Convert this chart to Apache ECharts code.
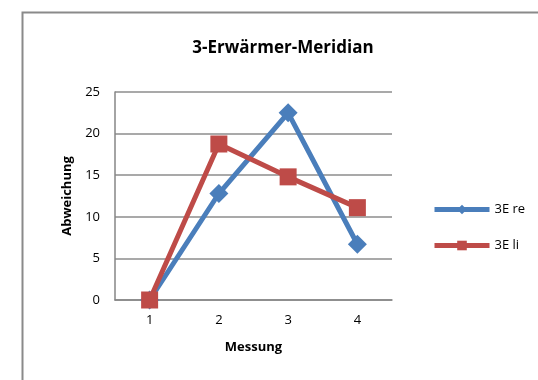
<!DOCTYPE html>
<html>
<head>
<meta charset="utf-8">
<script src="https://cdn.jsdelivr.net/npm/echarts@6/dist/echarts.min.js"></script>
<style>
  html, body { margin: 0; padding: 0; background: #fff; }
  #chart { width: 538px; height: 380px; }
</style>
</head>
<body>
<div id="chart"></div>
<script>
// Measurement rounds and deviation per meridian side
const categories = ['1', '2', '3', '4'];
const rechts = [0, 12.8, 22.5, 6.7];
const links = [0, 18.75, 14.8, 11.1];
const seriesNames = ['3E re', '3E li'];
const yTicks = { min: 0, max: 25, interval: 5 };

const FONT = '"Open Sans", "Liberation Sans", sans-serif';
const chart = echarts.init(document.getElementById('chart'), null, { renderer: 'canvas' });

chart.setOption({
  backgroundColor: '#ffffff',
  animation: false,
  title: {
    text: '3-Erwärmer-Meridian',
    left: 278,
    top: 35,
    textAlign: 'center',
    textStyle: { fontFamily: FONT, fontSize: 17, fontWeight: 'bold', color: '#000' }
  },
  legend: {
    orient: 'vertical',
    left: 427,
    top: 198,
    itemWidth: 55,
    itemHeight: 12,
    itemGap: 23,
    lineStyle: { width: 5 },
    itemStyle: { borderWidth: 0 },
    textStyle: { fontFamily: FONT, fontSize: 13, color: '#000' },
    data: seriesNames
  },
  grid: { left: 115, right: 146, top: 92, bottom: 80 },
  xAxis: {
    type: 'category',
    data: categories,
    boundaryGap: true,
    name: 'Messung',
    nameLocation: 'middle',
    nameGap: 41,
    nameTextStyle: { fontFamily: FONT, fontSize: 13, fontWeight: 'bold', color: '#000' },
    axisLine: { lineStyle: { color: '#868686', width: 1.5 } },
    axisTick: { show: false },
    axisLabel: { fontFamily: FONT, fontSize: 13, color: '#000', margin: 14 },
    splitLine: { show: false }
  },
  yAxis: {
    type: 'value',
    min: yTicks.min,
    max: yTicks.max,
    interval: yTicks.interval,
    name: 'Abweichung',
    nameLocation: 'middle',
    nameRotate: 90,
    nameGap: 40,
    nameTextStyle: { fontFamily: FONT, fontSize: 13, fontWeight: 'bold', color: '#000' },
    axisLine: { show: true, lineStyle: { color: '#868686', width: 1.5 } },
    axisTick: { show: false },
    axisLabel: { fontFamily: FONT, fontSize: 13, color: '#000', margin: 15 },
    splitLine: { show: true, lineStyle: { color: '#8c8c8c', width: 1.5 } }
  },
  series: [
    {
      name: seriesNames[0],
      type: 'line',
      data: rechts,
      symbol: 'diamond',
      symbolSize: 19,
      color: '#4A7EBB',
      lineStyle: { width: 5, color: '#4A7EBB' },
      itemStyle: { color: '#4A7EBB' },
      z: 2
    },
    {
      name: seriesNames[1],
      type: 'line',
      data: links,
      symbol: 'rect',
      symbolSize: 17,
      color: '#BE4B48',
      lineStyle: { width: 5, color: '#BE4B48' },
      itemStyle: { color: '#BE4B48' },
      z: 3
    }
  ],
  graphic: [
    {
      type: 'polyline',
      shape: { points: [[22.5, 380], [22.5, 12.5], [538, 12.5]] },
      style: { stroke: '#8a8a8a', lineWidth: 2, fill: null },
      silent: true
    }
  ]
});
</script>
</body>
</html>
